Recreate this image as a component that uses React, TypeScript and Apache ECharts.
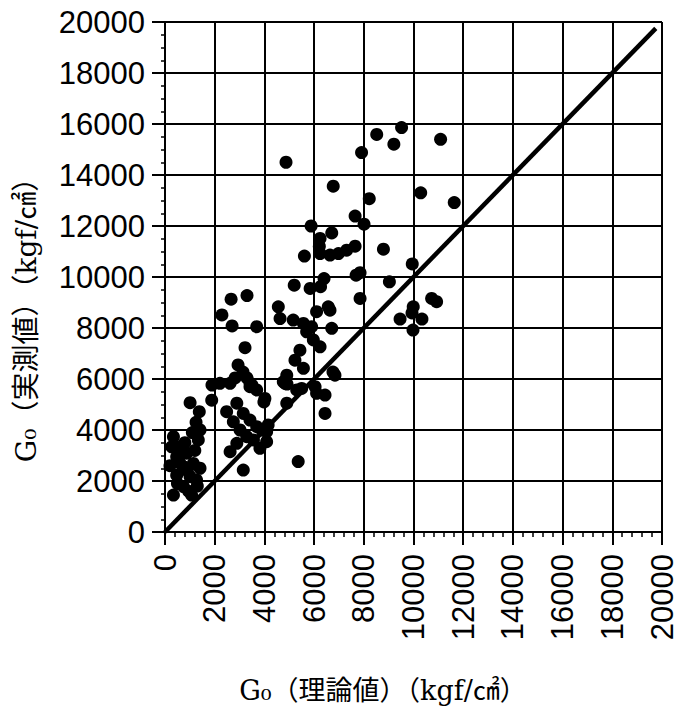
import React, { useEffect, useRef } from "react";
import * as echarts from "echarts";

// G0 theoretical (x) and measured (y), kgf/cm2
const theoretical: number[] = [
  4870, 6770, 7910, 8520, 9520, 9210, 11090, 8220, 10290, 11640,
  7650, 8010, 5880, 6710, 6240, 7650, 7310, 6980, 6640, 6240,
  5610, 6210, 8790, 9950, 6400, 7690, 7850, 9030, 5200, 5840,
  6260, 7850, 4560, 6570, 3300, 10730, 10930, 9990, 9460, 9940,
  10340, 9980,
  3690, 4630, 5160, 5570, 5900, 6640, 6710, 6100, 5700, 5970,
  6240, 5430, 5230, 5570, 4900, 4760, 5500, 6040, 6440, 6100,
  6840, 6440, 4020, 4900, 3690, 3420, 4090, 5360, 3220, 2290,
  2660, 2700, 4910, 6760,
  1010, 1380, 1880, 2210, 2620, 3420, 4830, 5300, 2480, 2890,
  3150, 3420, 2750, 3690, 3020, 3290, 3560, 2890, 2620, 3150,
  3820, 4090, 2940, 3140, 2820, 3300, 3500, 1890, 3980, 4150,
  3900,
  340, 600, 470, 870, 1140, 740, 1410, 470, 1010, 1270,
  740, 340, 1070, 1340, 1410, 270, 600, 900, 1200, 1300,
  800, 500, 1100, 1250, 200, 950,
];
const measured: number[] = [
  14500, 13560, 14880, 15590, 15860, 15210, 15400, 13070, 13300, 12920,
  12390, 12070, 12000, 11730, 11510, 11210, 11050, 10920, 10860, 10920,
  10820, 11210, 11090, 10510, 9940, 10070, 10170, 9810, 9680, 9550,
  9620, 9160, 8830, 8830, 9270, 9160, 9030, 8830, 8350, 8590,
  8350, 7920,
  8050, 8370, 8310, 8180, 8050, 8700, 7990, 8640, 7850, 7530,
  7260, 7130, 6740, 6420, 6150, 5890, 5630, 5700, 5370, 5440,
  6150, 4650, 5240, 5050, 5570, 5840, 3930, 2760, 7230, 8510,
  9130, 8080, 5800, 6270,
  5070, 4720, 5170, 5830, 5830, 5700, 5830, 5570, 4720, 5050,
  4650, 4390, 4320, 4130, 4000, 3740, 3610, 3480, 3150, 2430,
  3280, 3540, 6550, 6270, 6040, 6040, 5760, 5760, 5100, 4200,
  4000,
  3740, 3340, 2950, 3090, 2690, 2560, 2500, 2230, 2170, 2040,
  1780, 1450, 1450, 3610, 4000, 3340, 2700, 2400, 3200, 1800,
  3500, 1900, 3900, 4300, 2600, 1600,
];
// reference line (theoretical = measured)
const refLine: number[][] = [
  [0, 0],
  [19750, 19750],
];

const xTitle = "G₀（理論値）（kgf/㎠）";
const yTitle = "G₀（実測値）（kgf/㎠）";

export default function App() {
  const ref = useRef<HTMLDivElement>(null);
  useEffect(() => {
    if (!ref.current) return;
    const chart = echarts.init(ref.current, null, { renderer: "svg" });
    const points = theoretical.map((x, i) => [x, measured[i]]);
    const axisCommon = {
      type: "value" as const,
      min: 0,
      max: 20000,
      interval: 2000,
      axisLine: { show: true, onZero: false, lineStyle: { color: "#000", width: 2 } },
      axisTick: { show: true, length: 13, lineStyle: { color: "#000", width: 2 } },
      splitLine: { show: true, lineStyle: { color: "#000", width: 2 } },
    };
    const fmt = (v: number) => String(v);
    chart.setOption({
      animation: false,
      backgroundColor: "#fff",
      grid: { left: 165, right: 31, top: 22, bottom: 175 },
      xAxis: {
        ...axisCommon,
        minorTick: { show: true, splitNumber: 5, length: 5, lineStyle: { color: "#000", width: 1.5 } },
        axisLabel: {
          rotate: 90,
          margin: 22,
          fontSize: 31,
          color: "#000",
          fontFamily: "Liberation Sans",
          formatter: fmt,
        },
      },
      yAxis: {
        ...axisCommon,
        minorTick: { show: true, splitNumber: 4, length: 4, lineStyle: { color: "#000", width: 1.5 } },
        axisLabel: {
          margin: 20,
          fontSize: 31,
          color: "#000",
          fontFamily: "Liberation Sans",
          formatter: fmt,
        },
      },
      series: [
        {
          type: "scatter",
          data: points,
          symbol: "circle",
          symbolSize: 13,
          itemStyle: { color: "#000", opacity: 1 },
          z: 3,
        },
        {
          type: "line",
          data: refLine,
          symbol: "none",
          lineStyle: { color: "#000", width: 4.5 },
          z: 4,
        },
      ],
      graphic: [
        {
          type: "text",
          x: 383,
          y: 690,
          style: {
            text: xTitle,
            fontSize: 27,
            fontFamily: "'DejaVu Serif', 'Noto Sans CJK JP'",
            fill: "#000",
            align: "center",
            verticalAlign: "middle",
          },
        },
        {
          type: "text",
          x: 26,
          y: 313,
          rotation: Math.PI / 2,
          style: {
            text: yTitle,
            fontSize: 28,
            fontFamily: "'DejaVu Serif', 'Noto Sans CJK JP'",
            fill: "#000",
            align: "center",
            verticalAlign: "middle",
          },
        },
      ],
    });
    return () => chart.dispose();
  }, []);
  return <div ref={ref} style={{ width: 693, height: 707, position: "absolute", left: 0, top: 0 }} />;
}
